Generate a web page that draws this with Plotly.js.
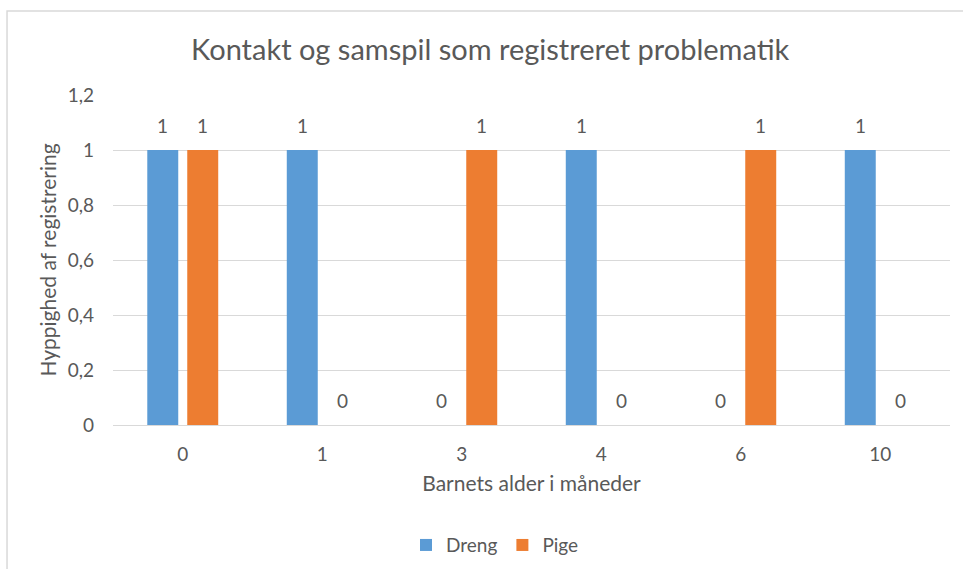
<!DOCTYPE html>
<html>
<head>
<meta charset="utf-8">
<script src="https://cdn.plot.ly/plotly-3.0.1.min.js"></script>
<style>
html,body{margin:0;padding:0;background:#fff;}
#chart{width:963px;height:569px;}
</style>
</head>
<body>
<div id="chart"></div>
<script>
var categories = ['0', '1', '3', '4', '6', '10'];
var dreng = [1, 1, 0, 1, 0, 1];
var pige = [1, 0, 1, 0, 1, 0];
var seriesNames = ['Dreng', 'Pige'];
var yTicks = [0, 0.2, 0.4, 0.6, 0.8, 1, 1.2];

var gray = '#595959';
var font = 'Lato, "Open Sans", sans-serif';

var traces = [
  {type: 'bar', name: seriesNames[0], x: categories, y: dreng,
   marker: {color: '#5B9BD5'}, hoverinfo: 'x+y'},
  {type: 'bar', name: seriesNames[1], x: categories, y: pige,
   marker: {color: '#ED7D31'}, hoverinfo: 'x+y'}
];

var annotations = [];
[[dreng, -20], [pige, 20]].forEach(function (s) {
  s[0].forEach(function (v, i) {
    annotations.push({
      x: i, y: v, xref: 'x', yref: 'y',
      text: String(v), showarrow: false,
      xshift: s[1], yshift: 11, yanchor: 'bottom',
      font: {family: font, size: 19, color: gray}
    });
  });
});

var layout = {
  width: 963, height: 569,
  margin: {l: 113, r: 13, t: 95, b: 144},
  paper_bgcolor: '#ffffff', plot_bgcolor: '#ffffff',
  barmode: 'group', bargap: 0.427, bargroupgap: 0.225,
  separators: ',.',
  font: {family: font, color: gray, size: 19},
  title: {text: 'Kontakt og samspil som registreret problematik',
          font: {family: font, size: 29, color: gray},
          x: 0.509, xref: 'container', xanchor: 'center',
          y: 0.912, yref: 'container', yanchor: 'middle'},
  xaxis: {type: 'category', range: [-0.5, categories.length - 0.5], autorange: false,
          showgrid: false, showline: true, linecolor: '#d9d9d9', linewidth: 1,
          ticks: '', ticklabelstandoff: 12, tickfont: {family: font, size: 19, color: gray},
          title: {text: 'Barnets alder i måneder', font: {family: font, size: 21, color: gray}, standoff: 12},
          automargin: false, fixedrange: true},
  yaxis: {range: [0, 1.2], tickvals: yTicks, showgrid: true, gridcolor: '#d9d9d9', gridwidth: 1,
          zeroline: true, zerolinecolor: '#d9d9d9', showline: false, ticks: '',
          ticklabelstandoff: 18,
          tickfont: {family: font, size: 19, color: gray},
          title: {text: 'Hyppighed af registrering', font: {family: font, size: 21, color: gray}, standoff: 5},
          automargin: true, fixedrange: true},
  legend: {orientation: 'h', xref: 'container', yref: 'container', x: 0.514, xanchor: 'center',
           y: 0.042, yanchor: 'middle',
           font: {family: font, size: 19, color: gray}, itemwidth: 30},
  annotations: annotations,
  shapes: [{type: 'rect', xref: 'paper', yref: 'paper', x0: -0.1266, x1: 1.05, y0: -0.6, y1: 1.2545,
            line: {color: '#d9d9d9', width: 1.5}, fillcolor: 'rgba(0,0,0,0)', layer: 'below'}]
};

Plotly.newPlot('chart', traces, layout, {displayModeBar: false, staticPlot: true});
</script>
</body>
</html>
